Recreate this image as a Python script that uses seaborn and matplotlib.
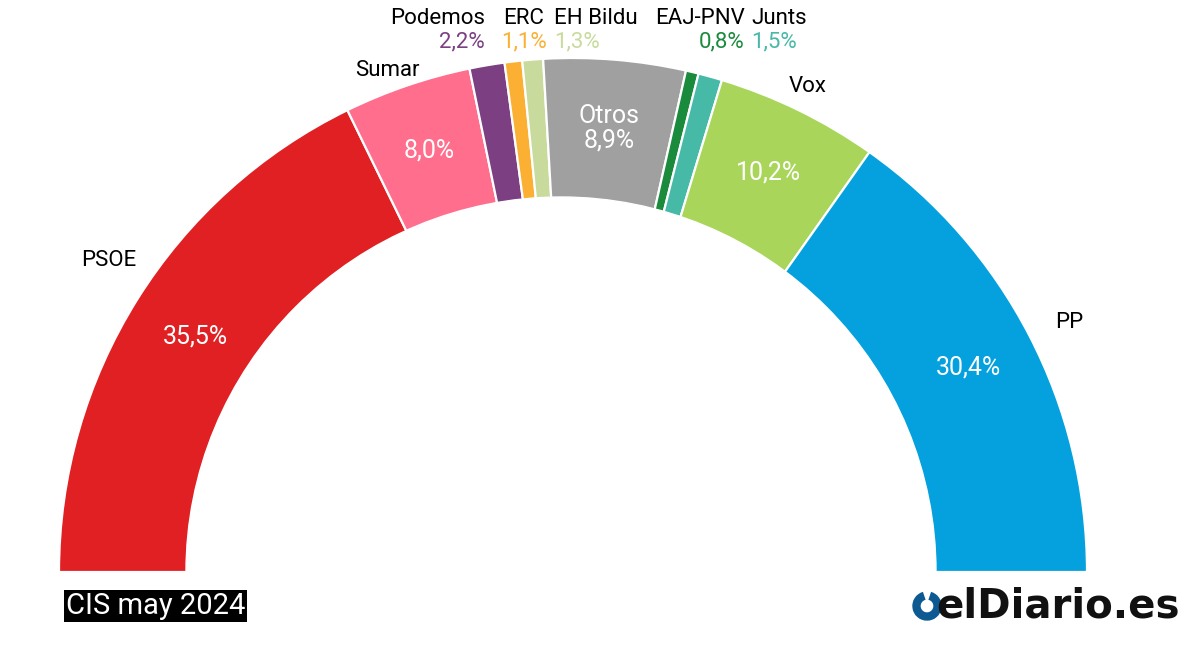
import numpy as np
import matplotlib.pyplot as plt
import seaborn as sns
from matplotlib.patches import Circle, Arc

# Datos: estimación de voto CIS mayo 2024
parties = ['PSOE', 'Sumar', 'Podemos', 'ERC', 'EH Bildu', 'Otros', 'EAJ-PNV', 'Junts', 'Vox', 'PP']
votes = [35.5, 8.0, 2.2, 1.1, 1.3, 8.9, 0.8, 1.5, 10.2, 30.4]
colors = ['#E02023', '#FF6E8D', '#7B3F82', '#FBB034', '#C8DB9C',
          '#A0A0A0', '#1A8A3C', '#47B9A7', '#A9D55B', '#04A1DE']

# partidos con etiqueta dentro del arco / etiquetas arriba
big = ['PSOE', 'Sumar', 'Vox', 'PP']
small = ['Podemos', 'ERC', 'EH Bildu', 'EAJ-PNV', 'Junts']

sns.set_theme(style='white')
plt.rcParams['font.family'] = ['Roboto', 'DejaVu Sans']

W, H = 1200, 668
CX, CY, R = 573, 572, 514  # centro y radio en píxeles


def px(x, y):
    # píxeles de la imagen -> coordenadas de datos (radio exterior = 1)
    return (x - CX) / R, (CY - y) / R


fig = plt.figure(figsize=(W / 100, H / 100), dpi=100)
ax = fig.add_axes([0, 0, 1, 1])

total = sum(votes)
wedges, _ = ax.pie(votes + [total], colors=colors + ['none'], startangle=180,
                   counterclock=False, radius=1,
                   wedgeprops=dict(edgecolor='white', linewidth=1.6))
wedges[-1].set_edgecolor('none')

# hueco interior (ligeramente desplazado, como en el original)
ax.add_patch(Circle(px(561, 572), 375 / R, color='white', zorder=5))

fmt = lambda v: f'{v:.1f}'.replace('.', ',') + '%'

# posición de los nombres de los partidos grandes (píxeles)
big_pos = {'PSOE': (136, 260, 'right'), 'Sumar': (420, 70, 'right'),
           'Vox': (789, 87, 'left'), 'PP': (1055, 323, 'left')}

for w, name, v in zip(wedges, parties, votes):
    ang = np.deg2rad((w.theta1 + w.theta2) / 2)
    r = 0.866
    if name in big:
        ax.text(r * np.cos(ang), r * np.sin(ang), fmt(v), color='white',
                fontsize=18, ha='center', va='center', zorder=6)
        x, y, ha = big_pos[name]
        ax.text(*px(x, y), name, color='black', fontsize=16, ha=ha, va='center', zorder=6)
    elif name == 'Otros':
        ax.text(r * np.cos(ang), r * np.sin(ang), f'{name}\n{fmt(v)}', color='white',
                fontsize=18, ha='center', va='center', linespacing=1.05, zorder=6)

# etiquetas de los partidos pequeños, en fila sobre el arco
small_x = [485, 524, 554, 745, 751]
small_ha = ['right', 'center', 'left', 'right', 'left']
for name, x, ha in zip(small, small_x, small_ha):
    i = parties.index(name)
    ax.text(*px(x, 19), name, color='black', fontsize=16, ha=ha, va='center')
    ax.text(*px(x, 42), fmt(votes[i]), color=colors[i], fontsize=16, ha=ha, va='center')

# fuente
ax.text(*px(66, 606), 'CIS may 2024', color='white', fontsize=21, ha='left', va='center',
        zorder=7, bbox=dict(facecolor='black', edgecolor='none', pad=1.5))

# logo
ax.add_patch(Arc(px(927, 606), 21 / R, 21 / R, theta1=105, theta2=435,
                 color='#0D5A93', linewidth=6, zorder=6))
ax.text(*px(936, 606), 'elDiario.es', color='#111111', fontsize=29, fontweight='bold',
        family=['DejaVu Sans'], ha='left', va='center', zorder=7)

ax.set_xlim(-CX / R, (W - CX) / R)
ax.set_ylim((CY - H) / R, CY / R)
ax.set_aspect('equal')
ax.axis('off')

fig.savefig('out.png', dpi=100)
